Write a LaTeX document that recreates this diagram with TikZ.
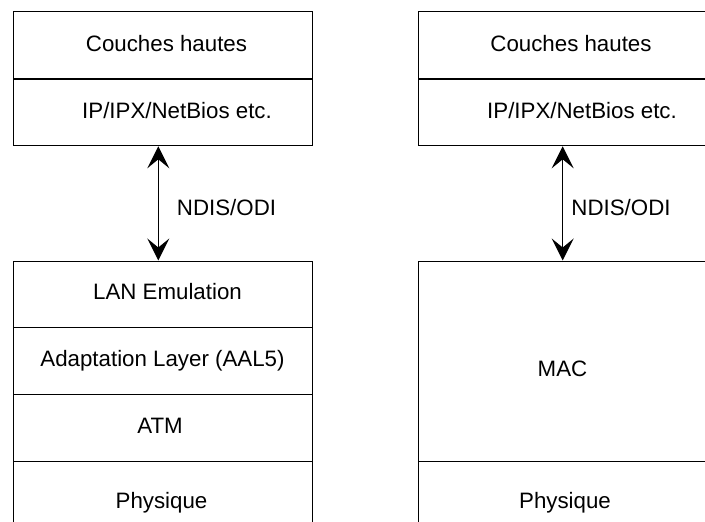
\documentclass[tikz,border=0pt]{standalone}
\usepackage{fontspec}
\setmainfont{Liberation Sans}
\usetikzlibrary{arrows.meta,calc}
\begin{document}
\begin{tikzpicture}[x=1pt,y=-1pt,
  box/.style={draw=black,line width=1.3pt,rectangle,inner sep=0pt,anchor=north west},
  lbl/.style={anchor=base,inner sep=0pt,font=\fontsize{22.3}{26}\selectfont},
  sep/.style={line width=1.3pt},
  tip/.style={},
  link/.style={line width=1.5pt,{Stealth[length=22pt,width=22pt,inset=9pt]}-{Stealth[length=22pt,width=22pt,inset=9pt]}}]
\useasboundingbox (0,0) rectangle (705,522);
\clip (0,0) rectangle (705,522);
% top boxes
\node[box,minimum width=299pt,minimum height=134pt] (topL) at (13,11) {};
\node[box,minimum width=299pt,minimum height=134pt] (topR) at (418,11) {};
% bottom boxes
\node[box,minimum width=299pt,minimum height=291pt] (botL) at (13,260.5) {};
\node[box,minimum width=299pt,minimum height=291pt] (botR) at (418,260.5) {};
% dividers
\draw[sep] (topL.west |- 0,79) -- (topL.east |- 0,79);
\draw[sep] (topR.west |- 0,79) -- (topR.east |- 0,79);
\draw[sep] (botL.west |- 0,327.7) -- (botL.east |- 0,327.7);
\draw[sep] (botL.west |- 0,394.7) -- (botL.east |- 0,394.7);
\draw[sep] (botL.west |- 0,461.3) -- (botL.east |- 0,461.3);
\draw[sep] (botR.west |- 0,461.3) -- (botR.east |- 0,461.3);
% texts
\node[lbl] (chL) at (166.5,51) {Couches hautes};
\node[lbl] (ipL) at (177,118) {IP/IPX/NetBios etc.};
\node[lbl] (chR) at (571,51) {Couches hautes};
\node[lbl] (ipR) at (582,118) {IP/IPX/NetBios etc.};
\node[lbl] (lan) at (167.5,299) {LAN Emulation};
\node[lbl] (aal) at (162.5,366) {Adaptation Layer (AAL5)};
\node[lbl] (atm) at (160,433) {ATM};
\node[lbl] (phL) at (161.5,508) {Physique};
\node[lbl] (mac) at (562.5,376) {MAC};
\node[lbl] (phR) at (565,508) {Physique};
\node[lbl] (ndL) at (226.5,215) {NDIS/ODI};
\node[lbl] (ndR) at (621,215) {NDIS/ODI};
% connectors
\draw[link] ($(topL.south west)+(145.3,0)$) -- ($(botL.north west)+(145.3,0)$);
\draw[link] ($(topR.south west)+(144.7,0)$) -- ($(botR.north west)+(144.7,0)$);
\end{tikzpicture}
\end{document}
